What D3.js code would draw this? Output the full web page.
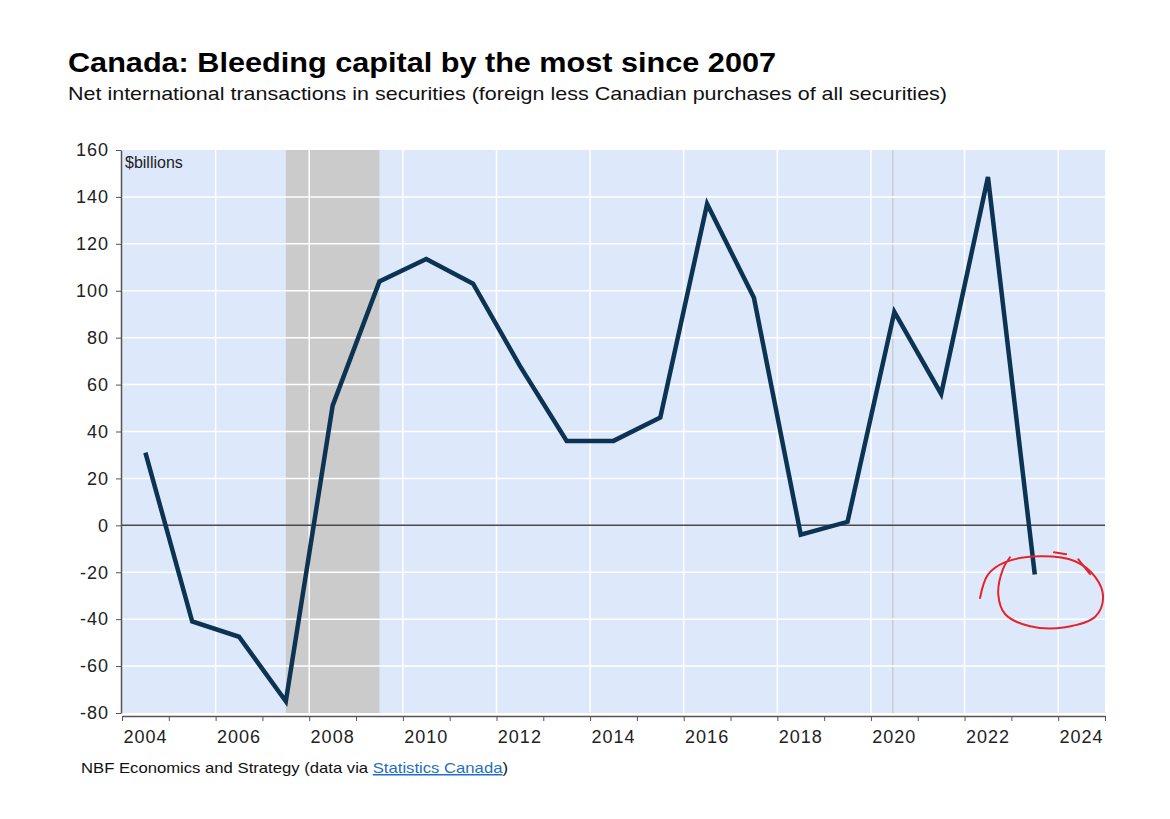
<!DOCTYPE html>
<html>
<head>
<meta charset="utf-8">
<script src="https://cdn.jsdelivr.net/npm/d3@7"></script>
<style>
  body { margin: 0; background: #fff; }
  svg text { font-family: "Liberation Sans", Arial, sans-serif; }
</style>
</head>
<body>
<div id="chart"></div>
<script>
// Annual net flows, plotted at mid-year
const years = [2004.5, 2005.5, 2006.5, 2007.5, 2008.5, 2009.5, 2010.5, 2011.5, 2012.5, 2013.5,
               2014.5, 2015.5, 2016.5, 2017.5, 2018.5, 2019.5, 2020.5, 2021.5, 2022.5, 2023.5];
const netFlows = [31, -41, -47.5, -75, 51, 104, 113.5, 103, 68, 36,
                  36, 46, 137, 97, -4, 1.5, 91, 56, 148.5, -21];

// Recession shading (start, end)
const recessions = [[2007.5, 2009.5], [2020.45, 2020.48]];

const yTicks = [-80, -60, -40, -20, 0, 20, 40, 60, 80, 100, 120, 140, 160];
const xLabelYears = [2004, 2006, 2008, 2010, 2012, 2014, 2016, 2018, 2020, 2022, 2024];

// Hand-drawn red circle round the last point, in data units
const circleYears = [2022.33, 2022.5, 2022.87, 2023.62, 2024.36, 2024.79, 2024.96, 2024.79, 2024.15, 2023.4, 2022.87, 2022.72, 2022.82, 2022.97];
const circleValues = [-31, -21, -15.7, -13.2, -15.3, -22, -30.6, -39, -43.4, -43, -37.9, -29.4, -18.7, -13.6];
const dashYears = [[2023.91, 2024.17], [2024.43, 2024.68]];
const dashValues = [[-11.5, -12.3], [-14.5, -20.8]];

const width = 1170, height = 819;
const margin = { top: 150, right: 65, bottom: 106, left: 122 };

const svg = d3.select("#chart").append("svg")
  .attr("width", width)
  .attr("height", height);

const x = d3.scaleLinear()
  .domain([2004, 2025])
  .range([margin.left, width - margin.right]);

const y = d3.scaleLinear()
  .domain([-80, 160])
  .range([height - margin.bottom, margin.top]);

// Titles
svg.append("text")
  .attr("x", 68).attr("y", 72)
  .style("font-size", "28px").style("font-weight", "bold")
  .attr("fill", "#000")
  .attr("textLength", 708).attr("lengthAdjust", "spacingAndGlyphs")
  .text("Canada: Bleeding capital by the most since 2007");

svg.append("text")
  .attr("x", 68).attr("y", 100)
  .style("font-size", "19px")
  .attr("fill", "#111")
  .attr("textLength", 879).attr("lengthAdjust", "spacingAndGlyphs")
  .text("Net international transactions in securities (foreign less Canadian purchases of all securities)");

// Plot background
svg.append("rect")
  .attr("x", x(2004)).attr("y", y(160))
  .attr("width", x(2025) - x(2004))
  .attr("height", y(-80) - y(160))
  .attr("fill", "#dde9fb");

// Recession bands
svg.selectAll(".recession")
  .data(recessions)
  .join("rect")
  .attr("class", "recession")
  .attr("x", d => x(d[0]))
  .attr("y", y(160))
  .attr("width", d => x(d[1]) - x(d[0]))
  .attr("height", y(-80) - y(160))
  .attr("fill", (d, i) => i === 0 ? "#cbcbcb" : "#c9ccd3");

// Gridlines
svg.append("g")
  .selectAll("line")
  .data(yTicks.filter(v => v !== 0 && v !== -80 && v !== 160))
  .join("line")
  .attr("x1", x(2004)).attr("x2", x(2025))
  .attr("y1", d => y(d)).attr("y2", d => y(d))
  .attr("stroke", "#fff").attr("stroke-width", 1.5);

svg.append("g")
  .selectAll("line")
  .data(xLabelYears.filter(v => v > 2004))
  .join("line")
  .attr("x1", d => x(d)).attr("x2", d => x(d))
  .attr("y1", y(160)).attr("y2", y(-80))
  .attr("stroke", "#fff").attr("stroke-width", 1.5);

// Zero line
svg.append("line")
  .attr("x1", x(2004)).attr("x2", x(2025))
  .attr("y1", y(0)).attr("y2", y(0))
  .attr("stroke", "#4a4a4a").attr("stroke-width", 1.5);

// Y axis
const yAxis = svg.append("g")
  .attr("transform", `translate(${x(2004) - 1},0)`)
  .call(d3.axisLeft(y).tickValues(yTicks).tickSize(5).tickPadding(7).tickSizeOuter(0)
    .tickFormat(d => String(d)));
yAxis.select(".domain").attr("stroke", "#555").attr("stroke-width", 1.5);
yAxis.selectAll(".tick line").attr("stroke", "#555");
yAxis.selectAll(".tick text")
  .style("font-size", "18px").style("letter-spacing", "1px")
  .style("font-family", "Liberation Sans, Arial, sans-serif")
  .attr("fill", "#222");

// X axis: ticks at each year start, labels at mid-year
const xAxis = svg.append("g")
  .attr("transform", `translate(0,${y(-80) + 3})`)
  .call(d3.axisBottom(x).tickValues(d3.range(2004, 2026)).tickSize(5).tickFormat("").tickSizeOuter(0));
xAxis.select(".domain").attr("stroke", "#555").attr("stroke-width", 1.5);
xAxis.selectAll(".tick line").attr("stroke", "#555");

svg.append("g")
  .selectAll("text")
  .data(xLabelYears)
  .join("text")
  .attr("x", d => x(d + 0.5))
  .attr("y", y(-80) + 30)
  .attr("text-anchor", "middle")
  .style("font-size", "18px").style("letter-spacing", "1px")
  .attr("fill", "#222")
  .text(d => d);

// Units label
svg.append("text")
  .attr("x", x(2004) + 3).attr("y", y(160) + 18)
  .style("font-size", "16px")
  .attr("fill", "#222")
  .text("$billions");

// Series line
const line = d3.line()
  .x((d, i) => x(years[i]))
  .y(d => y(d));

svg.append("path")
  .datum(netFlows)
  .attr("fill", "none")
  .attr("stroke", "#0c3352")
  .attr("stroke-width", 4.5)
  .attr("stroke-linejoin", "miter")
  .attr("d", line);

// Red annotation
const redLine = d3.line()
  .x(d => x(d[0]))
  .y(d => y(d[1]))
  .curve(d3.curveCatmullRom);

svg.append("path")
  .datum(circleYears.map((v, i) => [v, circleValues[i]]))
  .attr("fill", "none")
  .attr("stroke", "#e3242b")
  .attr("stroke-width", 2)
  .attr("stroke-linecap", "round")
  .attr("d", redLine);

svg.append("g")
  .selectAll("path")
  .data(dashYears.map((v, i) => v.map((yr, j) => [yr, dashValues[i][j]])))
  .join("path")
  .attr("fill", "none")
  .attr("stroke", "#e3242b")
  .attr("stroke-width", 2)
  .attr("stroke-linecap", "round")
  .attr("d", redLine);

// Footer
const footer = svg.append("text")
  .attr("x", 81).attr("y", 773)
  .style("font-size", "15px")
  .attr("fill", "#111")
  .attr("textLength", 427).attr("lengthAdjust", "spacingAndGlyphs");
footer.append("tspan").text("NBF Economics and Strategy (data via ");
footer.append("tspan").attr("fill", "#1f6fc5").style("text-decoration", "underline").text("Statistics Canada");
footer.append("tspan").text(")");
</script>
</body>
</html>
